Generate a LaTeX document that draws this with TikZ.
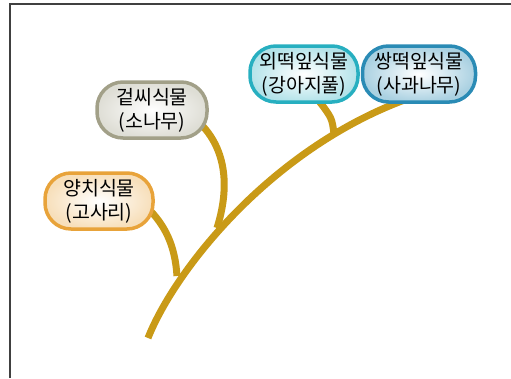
\documentclass[tikz,border=0pt]{standalone}
\usepackage{fontspec}
\setmainfont{Noto Sans CJK KR}
\usetikzlibrary{backgrounds}
\definecolor{stemc}{HTML}{C99A17}
\definecolor{orgc}{HTML}{E8A33A}
\definecolor{gryc}{HTML}{A2A088}
\definecolor{tealc}{HTML}{27AFC0}
\definecolor{bluc}{HTML}{2A8BB5}
\begin{document}
\begin{tikzpicture}[x=1pt,y=-1pt,
  pill/.style={rectangle,rounded corners=26pt,line width=3.5pt,minimum height=56pt,
    inner sep=0pt,align=center,font=\fontsize{19.5}{24}\selectfont,text=black},
  stem/.style={draw=stemc,line width=7pt}]
\useasboundingbox (0,0) rectangle (511,378);
\draw[black!75,line width=1.3pt] (10,378) -- (10,4) -- (511,4);
\node[pill,minimum width=108pt,draw=orgc,inner color=white,outer color=orgc!35] (fern) at (99,201) {양치식물\\(고사리)};
\node[pill,minimum width=110pt,draw=gryc,inner color=white,outer color=gryc!35] (gymno) at (152,110) {겉씨식물\\(소나무)};
\node[pill,minimum width=108pt,draw=tealc,inner color=white,outer color=tealc!35] (mono) at (304,74) {외떡잎식물\\(강아지풀)};
\node[pill,minimum width=113pt,draw=bluc,inner color=white,outer color=bluc!40] (dico) at (419,74) {쌍떡잎식물\\(사과나무)};
\coordinate (base) at (148,338);
\coordinate (j1) at (177,276);
\coordinate (j2) at (217,228);
\coordinate (j3) at (334,134);
\begin{pgfonlayer}{background}
\draw[stem] (base) .. controls (175,270) and (270,150) .. ([shift={(-14,-4)}]dico.south);
\draw[stem] (j1) .. controls (175,245) and (165,225) .. ([shift={(-8,6)}]fern.east);
\draw[stem] (j2) .. controls (229,190) and (228,150) .. ([shift={(-10,12)}]gymno.east);
\draw[stem] (j3) .. controls (332,118) .. ([shift={(14,-4)}]mono.south);
\end{pgfonlayer}
\end{tikzpicture}
\end{document}
